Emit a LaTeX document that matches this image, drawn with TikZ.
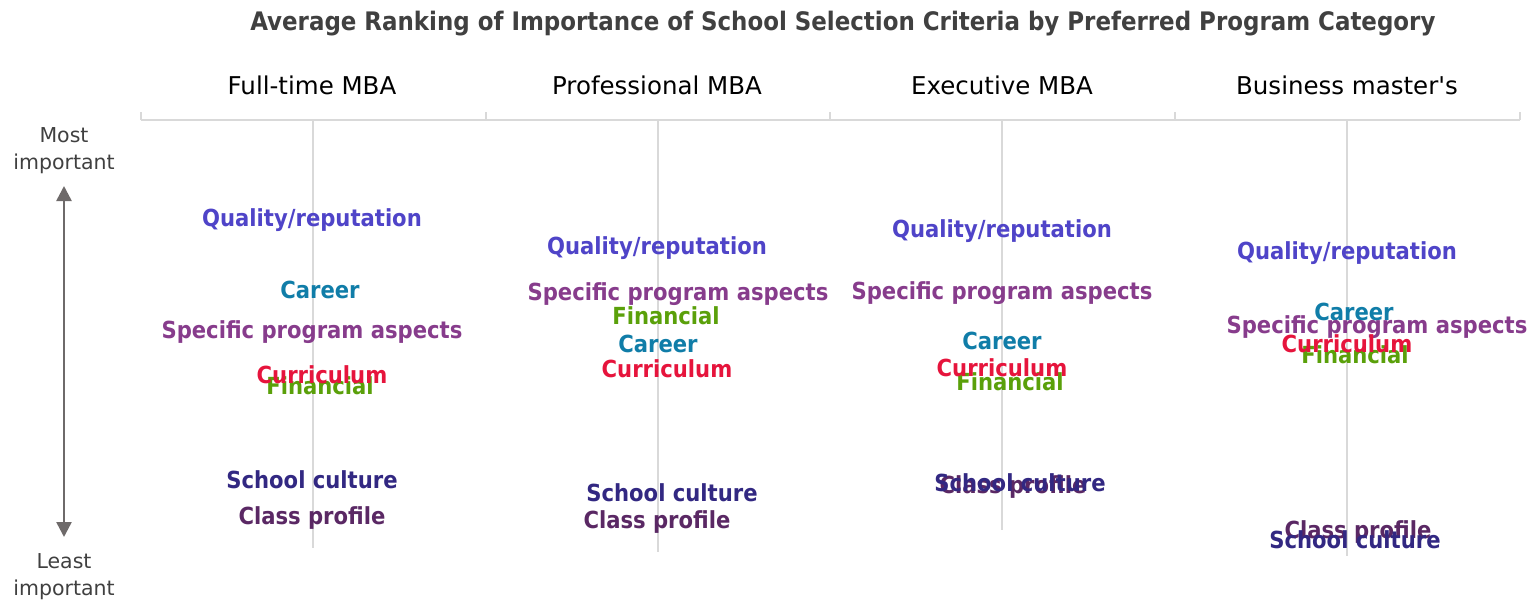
\documentclass[tikz,border=0pt]{standalone}
\usepackage{fontspec}
\setmainfont{DejaVu Sans}
\newfontfamily\condfont{DejaVu Sans Condensed}
\usetikzlibrary{arrows.meta}
\definecolor{cQual}{RGB}{79,68,200}
\definecolor{cCareer}{RGB}{16,125,168}
\definecolor{cSpec}{RGB}{135,60,140}
\definecolor{cCurr}{RGB}{230,20,60}
\definecolor{cFin}{RGB}{90,160,10}
\definecolor{cSchool}{RGB}{50,40,130}
\definecolor{cClass}{RGB}{90,40,100}
\definecolor{cGrid}{RGB}{217,217,217}
\definecolor{cAxis}{RGB}{110,106,106}
\definecolor{cText}{RGB}{64,64,64}
\tikzset{
  lbl/.style={inner sep=0pt, yshift=-2pt, font=\condfont\bfseries\fontsize{23.5}{26}\selectfont},
  hdr/.style={inner sep=0pt, font=\fontsize{24.5}{28}\selectfont, text=black},
  ttl/.style={inner sep=0pt, yshift=-2pt, font=\condfont\bfseries\fontsize{25.5}{28}\selectfont, text=cText},
  side/.style={inner sep=0pt, yshift=-2pt, align=center, font=\fontsize{20.5}{27}\selectfont, text=cText},
  grid/.style={draw=cGrid, line width=1.5pt},
  axisarrow/.style={draw=cAxis, line width=2.5pt, {Triangle[length=15pt,width=15pt]}-{Triangle[length=15pt,width=15pt]}}
}
\begin{document}
\begin{tikzpicture}[x=1pt,y=-1pt]
\useasboundingbox (0,0) rectangle (1533,600);
\node[ttl] (title) at (843,22) {Average Ranking of Importance of School Selection Criteria by Preferred Program Category};
% headers
\node[hdr] (h1) at (312,85) {Full-time MBA};
\node[hdr] (h2) at (657,85) {Professional MBA};
\node[hdr] (h3) at (1002,85) {Executive MBA};
\node[hdr] (h4) at (1347,85) {Business master\textquotesingle s};
% bracket
\coordinate (b0) at (141,120); \coordinate (b1) at (486,120); \coordinate (b2) at (830,120);
\coordinate (b3) at (1175,120); \coordinate (b4) at (1520,120);
\draw[grid] (b0) -- (b4);
\foreach \b in {b0,b1,b2,b3,b4} \draw[grid] (\b) -- ++(0,-8);
% column lines
\coordinate (t1) at (313,120); \coordinate (e1) at (313,548);
\coordinate (t2) at (658,120); \coordinate (e2) at (658,552);
\coordinate (t3) at (1002,120); \coordinate (e3) at (1002,530);
\coordinate (t4) at (1347,120); \coordinate (e4) at (1347,556);
\draw[grid] (t1) -- (e1); \draw[grid] (t2) -- (e2); \draw[grid] (t3) -- (e3); \draw[grid] (t4) -- (e4);
% side axis
\node[side] (most) at (64,149) {Most\\important};
\node[side] (least) at (64,575) {Least\\important};
\coordinate (at) at (64,186); \coordinate (ab) at (64,537);
\draw[axisarrow] (at) -- (ab);
% column 1
\node[lbl,text=cQual] (q1) at (312,218) {Quality/reputation};
\node[lbl,text=cCareer] (c1) at (320,288) {Career};
\node[lbl,text=cSpec] (s1) at (312,330) {Specific program aspects};
\node[lbl,text=cFin] (f1) at (320,384) {Financial};
\node[lbl,text=cCurr] (u1) at (322,373) {Curriculum};
\node[lbl,text=cSchool] (sc1) at (312,478) {School culture};
\node[lbl,text=cClass] (cp1) at (312,516) {Class profile};
% column 2
\node[lbl,text=cQual] (q2) at (657,246) {Quality/reputation};
\node[lbl,text=cSpec] (s2) at (678,292) {Specific program aspects};
\node[lbl,text=cFin] (f2) at (666,314) {Financial};
\node[lbl,text=cCareer] (c2) at (658,342) {Career};
\node[lbl,text=cCurr] (u2) at (667,367) {Curriculum};
\node[lbl,text=cSchool] (sc2) at (672,491) {School culture};
\node[lbl,text=cClass] (cp2) at (657,520) {Class profile};
% column 3
\node[lbl,text=cQual] (q3) at (1002,229) {Quality/reputation};
\node[lbl,text=cSpec] (s3) at (1002,291) {Specific program aspects};
\node[lbl,text=cCareer] (c3) at (1002,339) {Career};
\node[lbl,text=cFin] (f3) at (1010,380) {Financial};
\node[lbl,text=cCurr] (u3) at (1002,366) {Curriculum};
\node[lbl,text=cClass] (cp3) at (1013,485) {Class profile};
\node[lbl,text=cSchool] (sc3) at (1020,481) {School culture};
% column 4
\node[lbl,text=cQual] (q4) at (1347,251) {Quality/reputation};
\node[lbl,text=cCareer] (c4) at (1354,310) {Career};
\node[lbl,text=cSpec] (s4) at (1377,325) {Specific program aspects};
\node[lbl,text=cFin] (f4) at (1355,353) {Financial};
\node[lbl,text=cCurr] (u4) at (1347,342) {Curriculum};
\node[lbl,text=cClass] (cp4) at (1358,530) {Class profile};
\node[lbl,text=cSchool] (sc4) at (1355,538) {School culture};
\end{tikzpicture}
\end{document}
